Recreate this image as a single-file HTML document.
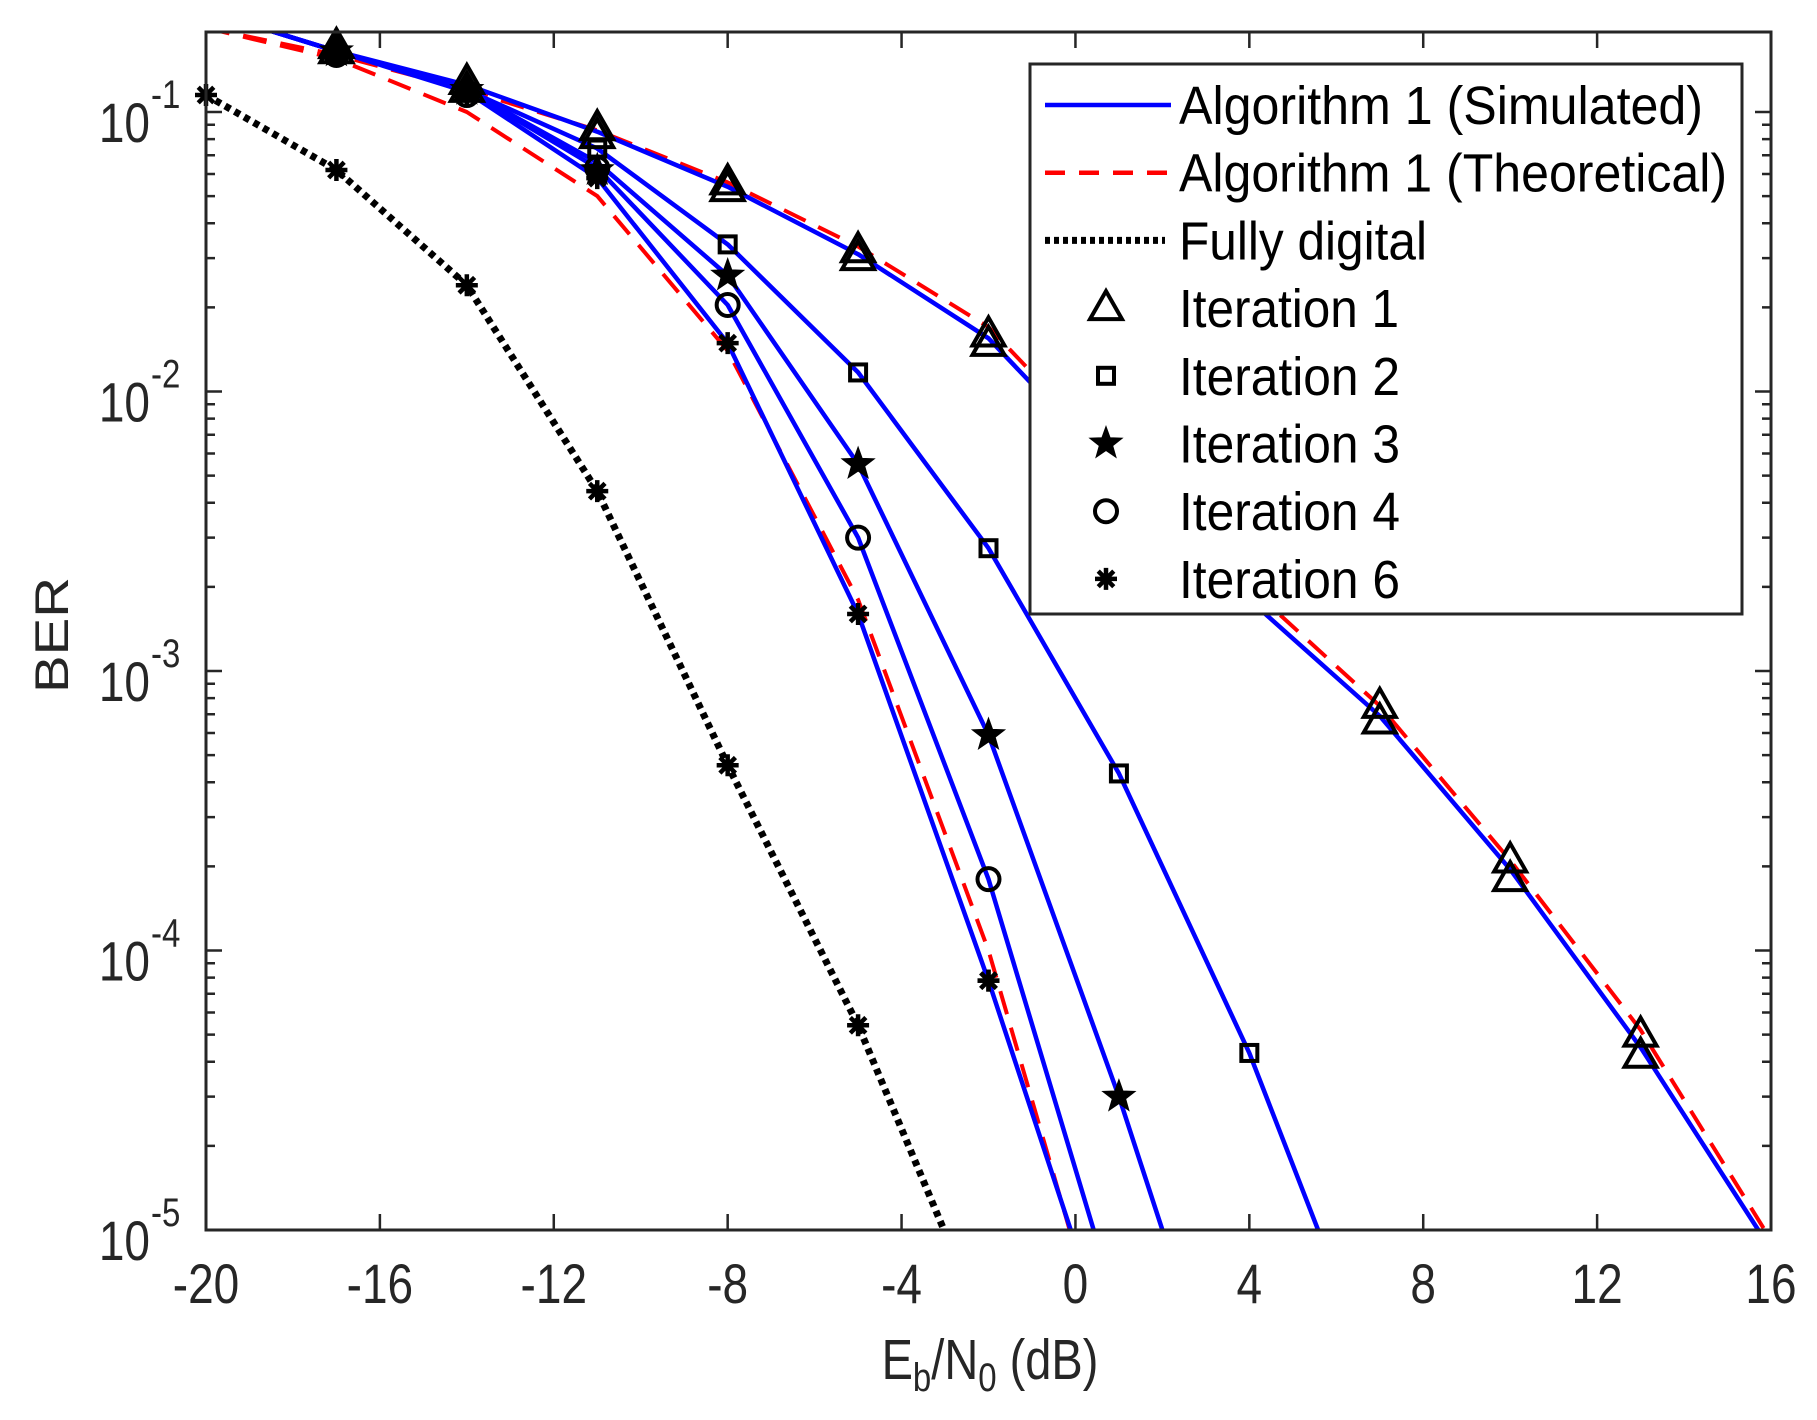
<!DOCTYPE html>
<html><head><meta charset="utf-8"><style>
body{margin:0;background:#fff}
svg{display:block;font-family:"Liberation Sans",Arial,sans-serif}
</style></head><body>
<svg id="chart" width="1817" height="1420" viewBox="0 0 1817 1420" xmlns="http://www.w3.org/2000/svg">
<defs><clipPath id="plotclip"><rect x="206" y="32" width="1565" height="1198"/></clipPath></defs>
<rect x="0" y="0" width="1817" height="1420" fill="#fff"/>
<g id="series" clip-path="url(#plotclip)"></g>
<g id="markers"></g>
<rect x="206" y="32" width="1565" height="1198" fill="none" stroke="#262626" stroke-width="3"/>
<g id="ticks"></g>
<g transform="translate(990,1379) scale(1,1.2)"><text x="0" y="0" font-size="47" fill="#262626" text-anchor="middle">E<tspan font-size="33" dy="10">b</tspan><tspan dy="-10">/N</tspan><tspan font-size="33" dy="10">0</tspan><tspan dy="-10"> (dB)</tspan></text></g>
<text transform="translate(68,635) rotate(-90) scale(1.2,1)" font-size="47" fill="#262626" text-anchor="middle">BER</text>
<g id="legend"></g>
</svg>
<script>
const xTicks=[-20,-16,-12,-8,-4,0,4,8,12,16];
const yDecades=[-5,-4,-3,-2,-1];
const x1=[-20,-17,-14,-11,-8,-5,-2,1,4,7,10,13,16];
const y1=[0.23,0.165,0.125,0.085,0.054,0.031,0.0155,0.005,0.0018,0.00069,0.000195,0.000045,0.0000085];
const xT1=[-20,-17,-14,-11,-8,-5,-2,1,4,7,10,13,16];
const yT1=[0.2,0.16,0.12,0.086,0.056,0.033,0.017,0.0055,0.002,0.00075,0.00021,0.000052,0.0000092];
const x2=[-20,-17,-14,-11,-8,-5,-2,1,4,6];
const y2=[0.23,0.165,0.12,0.074,0.0336,0.0117,0.00275,0.00043,0.000043,0.0000068];
const x3=[-20,-17,-14,-11,-8,-5,-2,1,2];
const y3=[0.23,0.165,0.12,0.066,0.026,0.0055,0.00059,0.00003,0.00001];
const x4=[-20,-17,-14,-11,-8,-5,-2,1];
const y4=[0.23,0.165,0.12,0.063,0.0204,0.003,0.00018,0.000005];
const x6=[-20,-17,-14,-11,-8,-5,-2,0];
const y6=[0.23,0.165,0.118,0.058,0.0149,0.0016,0.000078,0.0000089];
const xT6=[-20,-17,-14,-11,-8,-5,-2,0];
const yT6=[0.2,0.155,0.1,0.05,0.014,0.0018,0.0001,0.0000085];
const xFD=[-20,-17,-14,-11,-8,-5,-3];
const yFD=[0.115,0.062,0.024,0.0044,0.00046,0.000054,0.0000098];
const mx1=[-17,-14,-11,-8,-5,-2,7,10,13];
const my1=[0.172,0.128,0.0875,0.056,0.032,0.016,0.00075,0.00021,0.00005];
const mx1b=[-17,-14,-11,-8,-5,-2,7,10,13];
const my1b=[0.165,0.12,0.082,0.053,0.03,0.0148,0.00066,0.00018,0.000042];
const mx2=[-17,-14,-11,-8,-5,-2,1,4];
const my2=[0.16,0.118,0.074,0.0336,0.0117,0.00275,0.00043,0.000043];
const mx3=[-17,-14,-11,-8,-5,-2,1];
const my3=[0.165,0.12,0.062,0.026,0.0055,0.00059,0.00003];
const mx4=[-17,-14,-11,-8,-5,-2];
const my4=[0.16,0.115,0.063,0.0204,0.003,0.00018];
const mx6=[-20,-17,-14,-11,-8,-5,-2];
const my6=[0.115,0.062,0.024,0.0044,0.00046,0.000054,0.000078];
const mx6b=[-17,-14,-11,-8,-5,-2];
const my6b=[0.16,0.115,0.058,0.0149,0.0016,0.000078];

const X0=206,X1=1771,YT=32,YB=1230;
const xs=v=>X0+(v+20)/36*(X1-X0);
const ys=v=>YB-(Math.log10(v)+5)*279.5;
const NS="http://www.w3.org/2000/svg";
function mk(tag,attrs,parent){const e=document.createElementNS(NS,tag);for(const k in attrs)e.setAttribute(k,attrs[k]);parent.appendChild(e);return e;}
const g=id=>document.getElementById(id);
const ticks=g('ticks');
xTicks.forEach(t=>{
  const x=xs(t);
  const l=mk('path',{d:`M${x},${YB}v-16M${x},${YT}v16`,stroke:'#262626','stroke-width':2.5},ticks);
  
  
  const tg=mk('g',{transform:`translate(${x},1303) scale(1,1.2)`},ticks);
  const tx=mk('text',{x:0,y:0,'font-size':46,fill:'#262626','text-anchor':'middle'},tg);
  tx.textContent=String(t);
  
  
});
yDecades.forEach(d=>{
  const y=ys(Math.pow(10,d));
  const l=mk('path',{d:`M${X0},${y}h16M${X1},${y}h-16`,stroke:'#262626','stroke-width':2.5},ticks);
  
  
  for(let m=2;m<=9;m++){
    const v=m*Math.pow(10,d);const yy=ys(v);
    if(yy<YT)continue;
    const mt=mk('path',{d:`M${X0},${yy}h9M${X1},${yy}h-9`,stroke:'#262626','stroke-width':2.5},ticks);
    
    
  }
  const tg=mk('g',{transform:`translate(150,${y+30}) scale(1,1.2)`},ticks);
  const tx=mk('text',{x:0,y:0,'font-size':46,fill:'#262626','text-anchor':'end'},tg);
  tx.textContent='10';
  
  
  const sg=mk('g',{transform:`translate(151,${y-4}) scale(1,1.2)`},ticks);
  const sp=mk('text',{x:0,y:0,'font-size':33,fill:'#262626','text-anchor':'start'},sg);
  sp.textContent=String(d);
  
  
});
const ser=g('series');
function line(xa,ya,attrs,name){
  const d=xa.map((x,i)=>(i?'L':'M')+xs(x).toFixed(1)+','+ys(ya[i]).toFixed(1)).join('');
  const p=mk('path',Object.assign({d:d,fill:'none','stroke-linejoin':'round'},attrs),ser);
  
  
}
const blue={stroke:'#0000ff','stroke-width':4.5};
const red={stroke:'#ff0000','stroke-width':4,'stroke-dasharray':'24,14'};
line(xFD,yFD,{stroke:'#000','stroke-width':7,'stroke-dasharray':'6,5'},'fully-digital-line');
line(xT1,yT1,red,'theoretical-line-iter1');
line(xT6,yT6,red,'theoretical-line-iter6');
line(x1,y1,blue,'simulated-line-iter1');
line(x2,y2,blue,'simulated-line-iter2');
line(x3,y3,blue,'simulated-line-iter3');
line(x4,y4,blue,'simulated-line-iter4');
line(x6,y6,blue,'simulated-line-iter6');

function marker(type,cx,cy,parent){
  let e;const st={fill:'none',stroke:'#000','stroke-width':4};
  if(type==='tri') e=mk('path',Object.assign({d:`M${cx},${cy-17}L${cx+16},${cy+11}L${cx-16},${cy+11}Z`},st),parent);
  else if(type==='sq') e=mk('rect',Object.assign({x:cx-8,y:cy-8,width:16,height:16},st),parent);
  else if(type==='circ') e=mk('circle',Object.assign({cx:cx,cy:cy,r:11},st),parent);
  else if(type==='star'){let d='';for(let i=0;i<10;i++){const a=-Math.PI/2+i*Math.PI/5;const r=i%2?7:17;d+=(i?'L':'M')+(cx+r*Math.cos(a)).toFixed(1)+','+(cy+r*Math.sin(a)).toFixed(1);}e=mk('path',{d:d+'Z',fill:'#000',stroke:'#000','stroke-width':1},parent);}
  else {let d='';for(let i=0;i<4;i++){const a=i*Math.PI/4;d+=`M${cx-11*Math.cos(a)},${cy-11*Math.sin(a)}L${cx+11*Math.cos(a)},${cy+11*Math.sin(a)}`;}e=mk('path',{d:d,stroke:'#000','stroke-width':4.5},parent);}
  return e;
}
const mg=g('markers');
function mset(type,xa,ya,name){xa.forEach((x,i)=>{const e=marker(type,xs(x),ys(ya[i]),mg);
  
  });}
mset('tri',mx1,my1,'iteration1-marker');
mset('tri',mx1b,my1b,'iteration1-theory-marker');
mset('sq',mx2,my2,'iteration2-marker');
mset('star',mx3,my3,'iteration3-marker');
mset('circ',mx4,my4,'iteration4-marker');
mset('ast',mx6,my6,'fully-digital-marker');
mset('ast',mx6b,my6b,'iteration6-marker');

const lg=g('legend');
mk('rect',{x:1030,y:64,width:712,height:550,fill:'#fff',stroke:'#262626','stroke-width':3},lg);
const labels=['Algorithm 1 (Simulated)','Algorithm 1 (Theoretical)','Fully digital','Iteration 1','Iteration 2','Iteration 3','Iteration 4','Iteration 6'];
const widths=[524,548,248,220,221,221,221,221];
const kinds=['blue','red','dot','tri','sq','star','circ','ast'];
labels.forEach((t,i)=>{
  const y=105+i*67.7;
  if(kinds[i]==='blue'){const p=mk('path',{d:`M1045,${y}h126`,stroke:'#0000ff','stroke-width':4.5},lg);}
  else if(kinds[i]==='red'){const p=mk('path',{d:`M1045,${y}h126`,stroke:'#ff0000','stroke-width':4.5,'stroke-dasharray':'20,14'},lg);}
  else if(kinds[i]==='dot'){const p=mk('path',{d:`M1045,${y}h120`,stroke:'#000','stroke-width':7,'stroke-dasharray':'5,4'},lg);}
  else {const m=marker(kinds[i],1106,y,lg);}
  const tg=mk('g',{transform:`translate(1179,${y+19}) scale(1,1.2)`},lg);
  const tx=mk('text',{x:0,y:0,'font-size':45,fill:'#000',textLength:widths[i],lengthAdjust:'spacingAndGlyphs'},tg);
  tx.textContent=t;
  
  
});
</script>
</body></html>
